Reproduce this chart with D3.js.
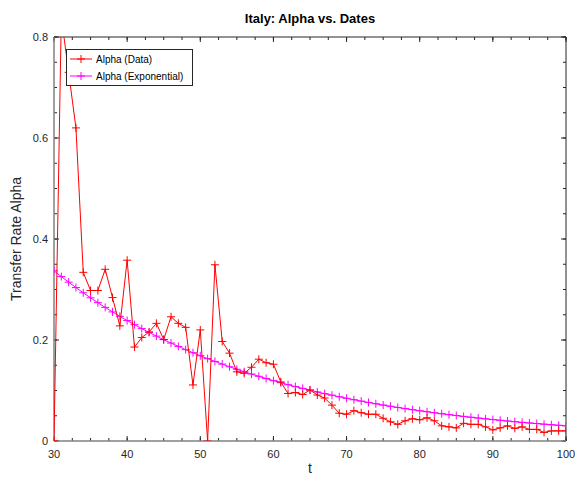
<!DOCTYPE html>
<html>
<head>
<meta charset="utf-8">
<script src="https://cdn.jsdelivr.net/npm/d3@7"></script>
<style>
  body { margin: 0; background: #fff; }
  text { font-family: "Liberation Sans", Arial, sans-serif; }
</style>
</head>
<body>
<svg id="chart"></svg>
<script>
// days 30..100
var days = d3.range(30, 101)

// Alpha (Data)
var alphaData = [
    0.000, 0.840, 0.730, 0.620, 0.334, 0.298, 0.298, 0.340, 0.284, 0.228,
    0.358, 0.186, 0.205, 0.216, 0.233, 0.201, 0.246, 0.233, 0.225, 0.111,
    0.220, 0.000, 0.349, 0.197, 0.174, 0.137, 0.134, 0.146, 0.162, 0.155,
    0.152, 0.117, 0.094, 0.096, 0.092, 0.101, 0.091, 0.085, 0.071, 0.055,
    0.053, 0.060, 0.056, 0.053, 0.053, 0.045, 0.038, 0.033, 0.040, 0.044,
    0.042, 0.046, 0.040, 0.030, 0.028, 0.026, 0.035, 0.033, 0.033, 0.028,
    0.022, 0.026, 0.030, 0.025, 0.028, 0.023, 0.023, 0.017, 0.020, 0.020,
    0.020
]

// Alpha (Exponential)
var alphaExp = [
    0.3370, 0.3256, 0.3145, 0.3038, 0.2935, 0.2835, 0.2739, 0.2646, 0.2556, 0.2469,
    0.2385, 0.2304, 0.2226, 0.2150, 0.2077, 0.2007, 0.1939, 0.1873, 0.1809, 0.1748,
    0.1688, 0.1631, 0.1576, 0.1522, 0.1470, 0.1420, 0.1372, 0.1326, 0.1281, 0.1237,
    0.1195, 0.1155, 0.1115, 0.1077, 0.1041, 0.1006, 0.0971, 0.0938, 0.0907, 0.0876,
    0.0846, 0.0817, 0.0790, 0.0763, 0.0737, 0.0712, 0.0688, 0.0664, 0.0642, 0.0620,
    0.0599, 0.0579, 0.0559, 0.0540, 0.0522, 0.0504, 0.0487, 0.0470, 0.0454, 0.0439,
    0.0424, 0.0410, 0.0396, 0.0382, 0.0369, 0.0357, 0.0345, 0.0333, 0.0322, 0.0311,
    0.0300
]

var xTicks = [30, 40, 50, 60, 70, 80, 90, 100]
var yTicks = [0, 0.2, 0.4, 0.6, 0.8]
var xMinor = d3.range(30, 100.1, 2.5)
var yMinor = d3.range(0, 0.801, 0.05)

var seriesNames = ["Alpha (Data)", "Alpha (Exponential)"]
var seriesColors = ["#ff0000", "#ff00ff"]

var dimensions = {
    width: 575,
    height: 478,
    margin: {
        top: 37,
        bottom: 37,
        right: 9,
        left: 54
    }
}

var svg = d3.select("#chart")
    .attr("width", dimensions.width)
    .attr("height", dimensions.height)

var x0 = dimensions.margin.left
var x1 = dimensions.width - dimensions.margin.right
var y0 = dimensions.height - dimensions.margin.bottom
var y1 = dimensions.margin.top

var xScale = d3.scaleLinear()
    .domain([30, 100])
    .range([x0, x1])

var yScale = d3.scaleLinear()
    .domain([0, 0.8])
    .range([y0, y1])

svg.append("clipPath")
    .attr("id", "plotClip")
    .append("rect")
    .attr("x", x0)
    .attr("y", y1)
    .attr("width", x1 - x0)
    .attr("height", y0 - y1)

// ticks, inward on all four sides
var tickColor = "#262626"
function drawTicks(vals, len, horizontal) {
    vals.forEach(function(v){
        if (horizontal) {
            var px = xScale(v)
            svg.append("line").attr("x1", px).attr("x2", px).attr("y1", y0).attr("y2", y0 - len)
                .attr("stroke", tickColor).attr("stroke-width", 1)
            svg.append("line").attr("x1", px).attr("x2", px).attr("y1", y1).attr("y2", y1 + len)
                .attr("stroke", tickColor).attr("stroke-width", 1)
        } else {
            var py = yScale(v)
            svg.append("line").attr("x1", x0).attr("x2", x0 + len).attr("y1", py).attr("y2", py)
                .attr("stroke", tickColor).attr("stroke-width", 1)
            svg.append("line").attr("x1", x1).attr("x2", x1 - len).attr("y1", py).attr("y2", py)
                .attr("stroke", tickColor).attr("stroke-width", 1)
        }
    })
}
drawTicks(xMinor, 3, true)
drawTicks(xTicks, 5, true)
drawTicks(yMinor, 3, false)
drawTicks(yTicks, 5, false)

// box
svg.append("line").attr("x1", x0).attr("x2", x1).attr("y1", y1).attr("y2", y1)
    .attr("stroke", "#262626").attr("stroke-width", 1)
svg.append("line").attr("x1", x1).attr("x2", x1).attr("y1", y1).attr("y2", y0)
    .attr("stroke", "#262626").attr("stroke-width", 1)
svg.append("line").attr("x1", x0).attr("x2", x1).attr("y1", y0).attr("y2", y0)
    .attr("stroke", "#808080").attr("stroke-width", 1.5)
svg.append("line").attr("x1", x0).attr("x2", x0).attr("y1", y1).attr("y2", y0)
    .attr("stroke", "#808080").attr("stroke-width", 1.5)

// tick labels
svg.selectAll(".xlab")
    .data(xTicks)
    .enter()
    .append("text")
    .attr("x", d => xScale(d))
    .attr("y", y0 + 17)
    .attr("text-anchor", "middle")
    .style("font-size", "11px")
    .attr("fill", "#262626")
    .text(d => d)

svg.selectAll(".ylab")
    .data(yTicks)
    .enter()
    .append("text")
    .attr("x", x0 - 6)
    .attr("y", d => yScale(d) + 4)
    .attr("text-anchor", "end")
    .style("font-size", "11px")
    .attr("fill", "#262626")
    .text(d => d)

// axis titles
svg.append("text")
    .attr("x", (x0 + x1) / 2)
    .attr("y", 473)
    .attr("text-anchor", "middle")
    .style("font-size", "14px")
    .attr("fill", "#262626")
    .text("t")

svg.append("text")
    .attr("transform", "rotate(-90)")
    .attr("x", -(y0 + y1) / 2)
    .attr("y", 21)
    .attr("text-anchor", "middle")
    .style("font-size", "14px")
    .attr("fill", "#262626")
    .text("Transfer Rate Alpha")

svg.append("text")
    .attr("x", (x0 + x1) / 2)
    .attr("y", 23)
    .attr("text-anchor", "middle")
    .style("font-size", "13px")
    .style("font-weight", "bold")
    .attr("fill", "#000")
    .text("Italy: Alpha vs. Dates")

// series
var plot = svg.append("g").attr("clip-path", "url(#plotClip)")
var lineGen = d3.line()
    .x(d => xScale(d[0]))
    .y(d => yScale(d[1]))

function drawSeries(vals, color) {
    var pts = days.map((d, i) => [d, vals[i]])
    plot.append("path")
        .datum(pts)
        .attr("d", lineGen)
        .attr("fill", "none")
        .attr("stroke", color)
        .attr("stroke-width", 1)
    var m = 4
    plot.selectAll(null)
        .data(pts)
        .enter()
        .append("path")
        .attr("d", d => {
            var px = xScale(d[0]), py = yScale(d[1])
            return "M" + (px - m) + "," + py + "H" + (px + m) + "M" + px + "," + (py - m) + "V" + (py + m)
        })
        .attr("stroke", color)
        .attr("stroke-width", 1)
}
drawSeries(alphaExp, seriesColors[1])
drawSeries(alphaData, seriesColors[0])

// legend
var legend = svg.append("g")
legend.append("rect")
    .attr("x", 66.5)
    .attr("y", 49.5)
    .attr("width", 126)
    .attr("height", 36)
    .attr("fill", "#fff")
    .attr("stroke", "#262626")
    .attr("stroke-width", 1)

seriesNames.forEach(function(name, i){
    var ly = 59 + i * 17
    legend.append("line")
        .attr("x1", 70).attr("x2", 92).attr("y1", ly).attr("y2", ly)
        .attr("stroke", seriesColors[i]).attr("stroke-width", 1)
    legend.append("path")
        .attr("d", "M77," + ly + "H85M81," + (ly - 4) + "V" + (ly + 4))
        .attr("stroke", seriesColors[i]).attr("stroke-width", 1)
    legend.append("text")
        .attr("x", 96)
        .attr("y", ly + 3.5)
        .style("font-size", "10px")
        .attr("fill", "#000")
        .text(name)
})
</script>
</body>
</html>
